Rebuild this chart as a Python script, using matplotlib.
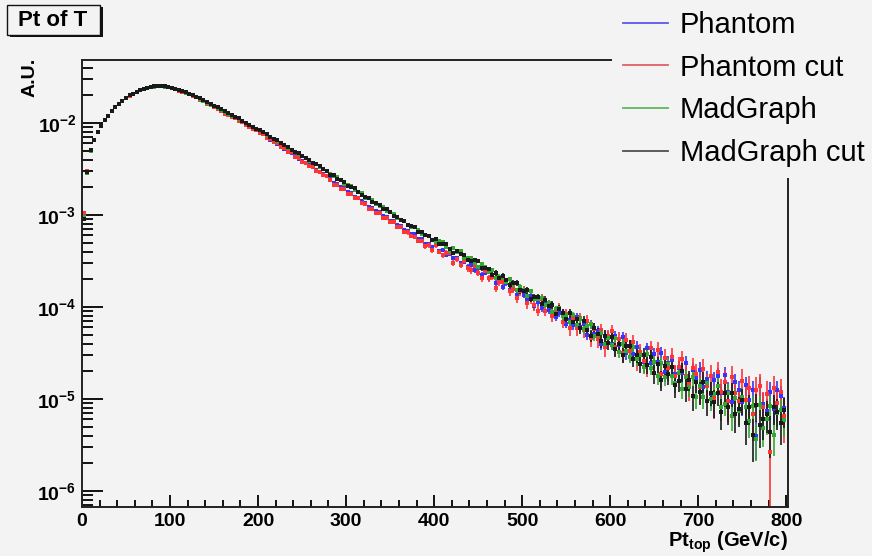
import matplotlib.pyplot as plt
import numpy as np
from matplotlib.lines import Line2D
from matplotlib.patches import Rectangle
from matplotlib.ticker import MultipleLocator, LogLocator, NullFormatter, FuncFormatter

plt.rcParams['font.family'] = ['Liberation Sans', 'DejaVu Sans']
plt.rcParams['mathtext.fontset'] = 'custom'
plt.rcParams['mathtext.rm'] = 'Liberation Sans'
plt.rcParams['mathtext.bf'] = 'Liberation Sans:bold'
plt.rcParams['mathtext.it'] = 'Liberation Sans:italic'

# histogram: 200 bins of 4 GeV from 0 to 800, contents stored as log10(A.U.)
bin_width = 4.0
bin_edges = np.arange(0, 801, bin_width)

phantom_log = [
    -3.01, -2.53, -2.30, -2.18, -2.10, -2.03, -1.97, -1.92, -1.87, -1.83,
    -1.79, -1.76, -1.73, -1.71, -1.68, -1.66, -1.64, -1.63, -1.62, -1.61,
    -1.61, -1.60, -1.60, -1.61, -1.61, -1.62, -1.63, -1.64, -1.66, -1.67,
    -1.69, -1.70, -1.72, -1.74, -1.76, -1.78, -1.80, -1.82, -1.85, -1.87,
    -1.89, -1.91, -1.93, -1.95, -1.97, -1.99, -2.01, -2.03, -2.06, -2.07,
    -2.10, -2.12, -2.15, -2.18, -2.20, -2.23, -2.25, -2.28, -2.30, -2.33,
    -2.35, -2.39, -2.41, -2.44, -2.46, -2.48, -2.51, -2.53, -2.55, -2.58,
    -2.61, -2.65, -2.66, -2.70, -2.71, -2.75, -2.76, -2.80, -2.81, -2.85,
    -2.87, -2.91, -2.92, -2.96, -2.97, -3.01, -3.02, -3.06, -3.07, -3.11,
    -3.12, -3.16, -3.17, -3.21, -3.21, -3.26, -3.26, -3.31, -3.31, -3.35,
    -3.33, -3.39, -3.38, -3.44, -3.42, -3.47, -3.47, -3.52, -3.51, -3.56,
    -3.54, -3.60, -3.58, -3.65, -3.63, -3.69, -3.67, -3.74, -3.72, -3.78,
    -3.74, -3.81, -3.80, -3.87, -3.82, -3.87, -3.92, -3.88, -3.99, -3.95,
    -4.01, -3.96, -4.03, -3.98, -4.11, -4.06, -4.06, -4.18, -4.14, -4.20,
    -4.11, -4.22, -4.19, -4.30, -4.19, -4.29, -4.26, -4.40, -4.31, -4.31,
    -4.40, -4.31, -4.41, -4.33, -4.50, -4.42, -4.51, -4.43, -4.50, -4.60,
    -4.45, -4.61, -4.51, -4.60, -4.50, -4.71, -4.61, -4.58, -4.73, -4.66,
    -4.72, -4.61, -4.81, -4.69, -4.77, -4.68, -4.87, -4.78, -4.95, -4.79,
    -4.75, -4.94, -4.74, -4.92, -5.03, -4.82, -4.90, -5.03, -4.85, -5.01,
    -4.90, -5.40, -4.86, -5.05, -5.13, -4.92, -5.11, -4.90, -4.97, -5.10,
]

phantom_cut_log = [
    -2.98, -2.52, -2.29, -2.18, -2.10, -2.03, -1.97, -1.92, -1.87, -1.83,
    -1.79, -1.76, -1.73, -1.71, -1.68, -1.66, -1.64, -1.63, -1.62, -1.61,
    -1.60, -1.60, -1.60, -1.61, -1.61, -1.62, -1.63, -1.65, -1.66, -1.67,
    -1.69, -1.71, -1.72, -1.75, -1.76, -1.79, -1.80, -1.83, -1.85, -1.87,
    -1.90, -1.91, -1.94, -1.95, -1.98, -1.99, -2.02, -2.04, -2.06, -2.08,
    -2.11, -2.12, -2.16, -2.17, -2.21, -2.22, -2.26, -2.27, -2.31, -2.32,
    -2.37, -2.38, -2.42, -2.43, -2.47, -2.48, -2.52, -2.53, -2.57, -2.58,
    -2.62, -2.67, -2.67, -2.72, -2.72, -2.77, -2.77, -2.82, -2.82, -2.87,
    -2.88, -2.93, -2.93, -2.98, -2.98, -3.03, -3.03, -3.08, -3.08, -3.13,
    -3.13, -3.18, -3.19, -3.23, -3.24, -3.28, -3.28, -3.34, -3.33, -3.38,
    -3.33, -3.40, -3.44, -3.41, -3.41, -3.52, -3.48, -3.54, -3.50, -3.58,
    -3.60, -3.55, -3.63, -3.69, -3.61, -3.69, -3.67, -3.79, -3.73, -3.73,
    -3.72, -3.83, -3.80, -3.90, -3.83, -3.82, -3.96, -3.91, -3.98, -4.04,
    -3.91, -4.04, -3.98, -4.10, -4.04, -4.01, -4.16, -4.08, -4.23, -4.12,
    -4.23, -4.12, -4.25, -4.15, -4.34, -4.24, -4.35, -4.25, -4.44, -4.32,
    -4.26, -4.43, -4.35, -4.50, -4.36, -4.48, -4.38, -4.57, -4.49, -4.59,
    -4.63, -4.45, -4.60, -4.47, -4.73, -4.55, -4.66, -4.54, -4.75, -4.65,
    -4.57, -4.75, -4.84, -4.66, -4.73, -4.87, -4.67, -4.86, -4.75, -4.99,
    -4.71, -4.92, -4.81, -5.02, -4.76, -4.94, -5.02, -4.80, -5.01, -4.88,
    -5.16, -4.90, -4.86, -5.09, -4.95, -5.58, -4.88, -5.04, -4.92, -5.18,
]

madgraph_log = [
    -3.02, -2.54, -2.30, -2.18, -2.10, -2.03, -1.97, -1.92, -1.87, -1.83,
    -1.79, -1.76, -1.73, -1.70, -1.68, -1.66, -1.64, -1.63, -1.62, -1.61,
    -1.61, -1.60, -1.60, -1.61, -1.61, -1.62, -1.63, -1.64, -1.65, -1.67,
    -1.68, -1.70, -1.72, -1.74, -1.76, -1.78, -1.80, -1.82, -1.84, -1.86,
    -1.88, -1.90, -1.92, -1.94, -1.96, -1.98, -2.00, -2.02, -2.04, -2.06,
    -2.08, -2.10, -2.13, -2.15, -2.17, -2.20, -2.22, -2.24, -2.27, -2.29,
    -2.31, -2.34, -2.36, -2.38, -2.41, -2.43, -2.45, -2.48, -2.50, -2.52,
    -2.55, -2.58, -2.59, -2.62, -2.66, -2.67, -2.69, -2.73, -2.75, -2.76,
    -2.81, -2.82, -2.84, -2.88, -2.90, -2.91, -2.96, -2.97, -2.99, -3.03,
    -3.05, -3.06, -3.11, -3.13, -3.13, -3.16, -3.21, -3.22, -3.23, -3.27,
    -3.29, -3.28, -3.29, -3.35, -3.39, -3.36, -3.40, -3.39, -3.47, -3.47,
    -3.47, -3.52, -3.56, -3.53, -3.57, -3.62, -3.60, -3.68, -3.67, -3.68,
    -3.73, -3.70, -3.76, -3.82, -3.78, -3.81, -3.88, -3.83, -3.91, -3.91,
    -3.90, -3.98, -3.96, -4.05, -4.02, -4.01, -4.10, -4.09, -4.16, -4.09,
    -4.20, -4.13, -4.24, -4.21, -4.19, -4.32, -4.30, -4.28, -4.40, -4.34,
    -4.41, -4.34, -4.49, -4.40, -4.48, -4.54, -4.44, -4.57, -4.52, -4.65,
    -4.51, -4.66, -4.60, -4.75, -4.61, -4.76, -4.62, -4.75, -4.83, -4.72,
    -4.89, -4.76, -4.87, -4.76, -4.98, -4.86, -4.98, -4.83, -5.00, -4.95,
    -4.86, -5.09, -5.05, -4.93, -5.18, -4.99, -5.13, -4.98, -5.09, -5.24,
    -5.08, -5.43, -5.07, -5.32, -5.22, -5.08, -5.39, -5.15, -5.12, -5.23,
]

madgraph_cut_log = [
    -3.04, -2.53, -2.29, -2.18, -2.10, -2.03, -1.97, -1.92, -1.87, -1.83,
    -1.79, -1.76, -1.73, -1.70, -1.68, -1.66, -1.64, -1.63, -1.62, -1.61,
    -1.60, -1.60, -1.60, -1.60, -1.61, -1.62, -1.63, -1.64, -1.65, -1.66,
    -1.68, -1.70, -1.72, -1.73, -1.75, -1.77, -1.79, -1.81, -1.83, -1.85,
    -1.87, -1.89, -1.91, -1.93, -1.95, -1.98, -2.00, -2.02, -2.04, -2.06,
    -2.08, -2.10, -2.12, -2.15, -2.17, -2.19, -2.22, -2.24, -2.26, -2.29,
    -2.31, -2.33, -2.36, -2.38, -2.40, -2.43, -2.45, -2.47, -2.50, -2.52,
    -2.56, -2.56, -2.61, -2.62, -2.64, -2.68, -2.70, -2.71, -2.75, -2.78,
    -2.80, -2.81, -2.86, -2.87, -2.89, -2.93, -2.94, -2.97, -3.01, -3.02,
    -3.05, -3.06, -3.11, -3.12, -3.13, -3.18, -3.18, -3.22, -3.23, -3.27,
    -3.26, -3.31, -3.31, -3.32, -3.37, -3.41, -3.39, -3.42, -3.43, -3.49,
    -3.50, -3.49, -3.50, -3.58, -3.58, -3.59, -3.65, -3.63, -3.68, -3.66,
    -3.71, -3.76, -3.74, -3.74, -3.82, -3.83, -3.82, -3.91, -3.89, -3.89,
    -3.97, -3.92, -3.99, -3.98, -4.08, -4.02, -4.07, -4.13, -4.07, -4.16,
    -4.13, -4.23, -4.15, -4.25, -4.31, -4.23, -4.29, -4.37, -4.31, -4.39,
    -4.33, -4.46, -4.40, -4.52, -4.42, -4.42, -4.56, -4.52, -4.62, -4.52,
    -4.63, -4.54, -4.72, -4.62, -4.79, -4.64, -4.73, -4.65, -4.85, -4.80,
    -4.70, -4.89, -4.79, -4.97, -4.81, -4.92, -4.81, -5.02, -4.93, -5.03,
    -4.93, -5.14, -4.94, -5.09, -4.94, -5.16, -5.11, -5.01, -5.26, -5.09,
    -5.39, -5.07, -5.28, -5.22, -5.16, -5.36, -5.09, -5.14, -5.26, -5.12,
]

# effective number of entries of each sample, sets the size of the error bars
phantom_events = 1.2e6
phantom_cut_events = 6e5
madgraph_events = 1.5e6
madgraph_cut_events = 1e6

labels = ["Phantom", "Phantom cut", "MadGraph", "MadGraph cut"]
colors = ["#3434ff", "#ff3434", "#33a833", "#1a1a1a"]
legend_colors = ["#5a5aee", "#e0606a", "#5cb85c", "#505050"]

bg = "#f3f3f3"
fig = plt.figure(figsize=(8.72, 5.56), dpi=100, facecolor=bg)
ax = fig.add_axes([82 / 872, 1 - 507 / 556, (788 - 82) / 872, (507 - 60) / 556])
ax.set_facecolor(bg)

centers = 0.5 * (bin_edges[:-1] + bin_edges[1:])
all_logs = [phantom_log, phantom_cut_log, madgraph_log, madgraph_cut_log]
all_events = [phantom_events, phantom_cut_events, madgraph_events, madgraph_cut_events]
for logv, n, c in zip(all_logs, all_events, colors):
    y = 10.0 ** np.array(logv)
    err = np.sqrt(y / n)
    lo = np.minimum(err, y * 0.999)
    ax.errorbar(centers, y, yerr=[lo, err], fmt='s', ms=2.6,
                mew=0, color=c, ecolor=c, elinewidth=1.2, capsize=0)

ax.set_yscale('log')
ax.set_xlim(0, 802)
ax.set_ylim(10 ** -6.174, 10 ** -1.315)

ax.xaxis.set_major_locator(MultipleLocator(100))
ax.xaxis.set_minor_locator(MultipleLocator(20))
ax.yaxis.set_major_locator(LogLocator(base=10, numticks=20))
ax.yaxis.set_minor_locator(LogLocator(base=10, subs=np.arange(2, 10), numticks=20))
ax.yaxis.set_minor_formatter(NullFormatter())
ax.yaxis.set_major_formatter(FuncFormatter(
    lambda v, p: r'$\mathbf{10^{%d}}$' % round(np.log10(v))))

ax.tick_params(axis='x', which='major', direction='in', length=9, width=1.3,
               labelsize=14, pad=4, top=False)
ax.tick_params(axis='x', which='minor', direction='in', length=5, width=1.3, top=False)
ax.tick_params(axis='y', which='major', direction='in', length=15, width=1.3,
               labelsize=14, pad=4, right=False)
ax.tick_params(axis='y', which='minor', direction='in', length=8, width=1.3, right=False)
for lab in ax.get_xticklabels():
    lab.set_fontweight('bold')
for s in ax.spines.values():
    s.set_linewidth(1.4)
    s.set_color('#222222')

ax.set_xlabel(r'$\mathbf{Pt_{top}}$ (GeV/c)', fontsize=14.5, fontweight='bold',
              loc='right', labelpad=0)
fig.text(30 / 872, 1 - 58 / 556, 'A.U.', rotation=90, fontsize=14,
         fontweight='bold', ha='center', va='top')

# title box with shadow
fig.add_artist(Rectangle((10 / 872, 1 - 37 / 556), 93 / 872, 30 / 556,
                         transform=fig.transFigure, facecolor='#111111', edgecolor='none'))
fig.add_artist(Rectangle((7 / 872, 1 - 35 / 556), 93 / 872, 30 / 556,
                         transform=fig.transFigure, facecolor=bg, edgecolor='#111111', lw=1))
fig.text(53 / 872, 1 - 20 / 556, 'Pt of T', fontsize=16, fontweight='bold',
         ha='center', va='center')

handles = [Line2D([], [], color=c, lw=1.3) for c in legend_colors]
leg = fig.legend(handles, labels, loc='upper left', bbox_to_anchor=(612 / 872, 1.0),
                 fontsize=21, frameon=True, facecolor=bg, edgecolor='none',
                 framealpha=1, fancybox=False, handlelength=1.55, handletextpad=0.4,
                 labelspacing=0.5, borderpad=0.38, borderaxespad=0)

fig.savefig('out.png', dpi=100, facecolor=bg)
